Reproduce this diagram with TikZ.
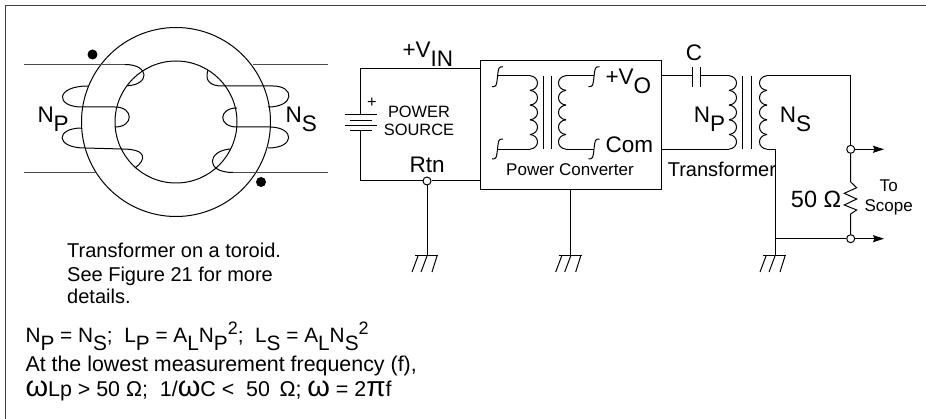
\documentclass[tikz,border=0pt]{standalone}
\usepackage{fontspec}
\setmainfont{Liberation Sans}
\usetikzlibrary{arrows.meta}

\newcommand{\dnt}[1]{\raisebox{-0.36em}{#1}}
\newcommand{\upt}[1]{\raisebox{0.42em}{\fontsize{18}{18}\selectfont #1}}
\newcommand{\omg}{{\fontsize{29}{29}\selectfont ω}}
\newcommand{\pig}{{\fontsize{28}{28}\selectfont π}}

\tikzset{
    big/.style={inner sep=0pt, anchor=base west, font=\fontsize{22.5}{22.5}\selectfont},
    small/.style={inner sep=0pt, anchor=base, font=\fontsize{17}{17}\selectfont},
    source/.style={inner sep=0pt, anchor=base, font=\fontsize{16.4}{16.4}\selectfont},
    note/.style={inner sep=0pt, anchor=base west, font=\fontsize{20}{20}\selectfont},
    eqn/.style={inner sep=0pt, anchor=base west, font=\fontsize{20.8}{20.8}\selectfont},
    term/.style={circle, draw, fill=white, inner sep=0pt, minimum size=8pt},
    dot/.style={circle, fill=black, inner sep=0pt, minimum size=10pt},
    lead/.style={line width=1.5pt, black!70},
    coilpic/.pic={
        \foreach \i in {0,...,4}
            \draw (0, 14.7*\i) .. controls (10, 14.7*\i+1) and (10, 14.7*\i+13.7) .. (0, 14.7*\i+14.7);
    },
    groundpic/.pic={
        \draw (-12, 0) -- (11, 0);
        \draw (-9, 0) -- (-15, 16);
        \draw (0, 0) -- (-6, 16);
        \draw (10, 0) -- (5, 16);
    },
    hookpic/.pic={
        \draw (-5.5, 10) .. controls (-1, 10) and (-1, 9) .. (0, 0) .. controls (1, -9) and (1, -10) .. (5.5, -10);
    }
}

\begin{document}
\begin{tikzpicture}[x=1pt, y=-1pt, line width=1pt]
    \useasboundingbox (0, 0) rectangle (926, 419);

    % Rahmen
    \draw[line width=1.3pt, black!75] (926, 5.5) -- (5.5, 5.5) -- (5.5, 419);

    % Ringkern
    \coordinate (core) at (176, 122);
    \draw (core) circle (94.5);
    \draw (core) circle (61);
    \node[dot] (dotp) at (92.5, 54.5) {};
    \node[dot] (dots) at (261, 182) {};

    % Wicklung links
    \draw[lead] (23.5, 64.5) -- (125, 64.5);
    \draw (125, 64.5) .. controls (150, 64.5) and (150, 85) .. (127, 85.7);
    \draw (88, 86) .. controls (55, 86) and (55, 107) .. (82, 107) -- (115, 107)
        .. controls (134, 107) and (134, 127) .. (115, 127);
    \draw (82, 128) .. controls (55, 128) and (55, 148) .. (85, 148) -- (122, 149)
        .. controls (148, 149) and (146, 160) .. (135, 168);
    \draw[lead] (24, 172.5) -- (97, 172.5);

    % Wicklung rechts
    \draw[lead] (253, 64.5) -- (328, 64.5);
    \draw (208, 70) .. controls (204, 82) and (212, 86) .. (222, 86) -- (273, 86)
        .. controls (295, 86) and (295, 107) .. (268, 107);
    \draw (237, 108) .. controls (218, 108) and (218, 127) .. (237, 127) -- (271, 127)
        .. controls (295, 128) and (295, 148) .. (268, 148);
    \draw (230, 149) .. controls (207, 151) and (205, 172.5) .. (233, 172.5);
    \draw[lead] (233, 172.5) -- (328, 172.5);

    \node[big] (npa) at (37, 123) {N\dnt{P}};
    \node[big] (nsa) at (285, 123) {N\dnt{S}};

    % Quelle
    \draw (480, 60.7) rectangle (661.7, 189.3);
    \coordinate (srctop) at (360, 68.3);
    \coordinate (srcbot) at (360, 181);
    \node[term] (rtn) at (427, 181) {};
    \draw (480, 68.3) -- (srctop) -- (360, 115);
    \draw (360, 131) -- (srcbot) -- (rtn) -- (480, 181);
    \draw (345, 115) -- (377, 115);
    \draw (350, 120.5) -- (372, 120.5);
    \draw (345, 126) -- (377, 126);
    \draw (350, 131) -- (372, 131);
    \node[source] (plus) at (372, 108) {+};
    \node[source] (srca) at (419, 118) {POWER};
    \node[source] (srcb) at (419, 135.5) {SOURCE};
    \node[big] (vin) at (402, 58) {+V\dnt{IN}};
    \node[big] (rtnl) at (409, 173) {Rtn};

    % Wandler
    \path (530, 75.7) pic {coilpic};
    \path (566, 75.7) pic[xscale=-1] {coilpic};
    \draw (543.5, 76) -- (543.5, 149.3);
    \draw (551.8, 76) -- (551.8, 149.3);
    \path (497.5, 76.7) pic {hookpic};
    \path (497.5, 149) pic {hookpic};
    \path (594, 76.7) pic {hookpic};
    \path (594, 149) pic {hookpic};
    \draw (498, 75.7) -- (530, 75.7);
    \draw (498, 149.3) -- (530, 149.3);
    \draw (566, 75.7) -- (594, 75.7);
    \draw (566, 149.3) -- (594, 149.3);
    \node[big] (vo) at (605, 85) {+V\dnt{O}};
    \node[big] (com) at (605, 153) {Com};
    \node[small] (convl) at (570, 176) {Power Converter};

    % Ausgangstrafo
    \coordinate (cleft) at (692.3, 76);
    \coordinate (cright) at (700, 76);
    \draw (661.7, 76) -- (cleft);
    \draw (cright) -- (729, 76);
    \draw (692.3, 66.7) -- (692.3, 86.7);
    \draw (700, 66.7) -- (700, 86.7);
    \draw (661.7, 149.3) -- (729, 149.3);
    \path (729, 75.7) pic {coilpic};
    \path (767, 75.7) pic[xscale=-1] {coilpic};
    \draw (742.7, 76) -- (742.7, 149.3);
    \draw (751, 76) -- (751, 149.3);
    \node[big, anchor=base] (cl) at (694, 61) {C};
    \node[big] (npb) at (693.3, 123) {N\dnt{P}};
    \node[big] (nsb) at (779.3, 123) {N\dnt{S}};
    \node[note] (trafo) at (667.3, 176.7) {Transformer};

    % Ausgang
    \node[term] (outa) at (850.7, 149.3) {};
    \node[term] (outb) at (850.7, 238.7) {};
    \coordinate (outc) at (775, 238.7);
    \coordinate (gndc) at (775, 256);
    \coordinate (arra) at (884, 149.3);
    \coordinate (arrb) at (884, 238.7);
    \draw (767, 75.7) -- (850.7, 75.7) -- (outa);
    \draw (767, 149.3) -- (775, 149.3) -- (gndc);
    \draw (outc) -- (outb);
    \draw (outa) -- (850.7, 182) -- (856.7, 187.7) -- (844.3, 193.3) -- (856.7, 199) -- (844.3, 205)
        -- (856.7, 210) -- (850.7, 214) -- (outb);
    \draw[-{Stealth[length=11pt, width=7pt, inset=1.5pt]}] (outa) -- (arra);
    \draw[-{Stealth[length=11pt, width=7pt, inset=1.5pt]}] (outb) -- (arrb);
    \node[big, font=\fontsize{23.5}{23.5}\selectfont, anchor=base east] (ohm) at (841.7, 208) {50 Ω};
    \node[small] (toa) at (888.7, 192) {To};
    \node[small] (tob) at (888.7, 211.7) {Scope};

    % Masse
    \coordinate (gnda) at (427, 256);
    \coordinate (gndb) at (570.7, 256);
    \draw (rtn) -- (gnda);
    \draw (570.7, 189.3) -- (gndb);
    \path (gnda) pic {groundpic};
    \path (gndb) pic {groundpic};
    \path (gndc) pic {groundpic};

    % Texte
    \node[note] (capa) at (66.7, 258) {Transformer on a toroid.};
    \node[note] (capb) at (66.7, 281.7) {See Figure 21 for more};
    \node[note] (capc) at (66.7, 304) {details.};
    \node[eqn] (eqa) at (25, 343) {N\dnt{P} = N\dnt{S};\ \ L\dnt{P} = A\dnt{L}N\dnt{P}\upt{2};\ \ L\dnt{S} = A\dnt{L}N\dnt{S}\upt{2}};
    \node[eqn, font=\fontsize{21.4}{21.4}\selectfont] (eqb) at (25, 371.7) {At the lowest measurement frequency (f),};
    \node[eqn, font=\fontsize{21.4}{21.4}\selectfont] (eqc) at (25, 396.7) {\omg Lp > 50 Ω;\ \ 1/\omg C <\ \ 50 \,Ω; \omg{} = 2\pig{}f};
\end{tikzpicture}
\end{document}
